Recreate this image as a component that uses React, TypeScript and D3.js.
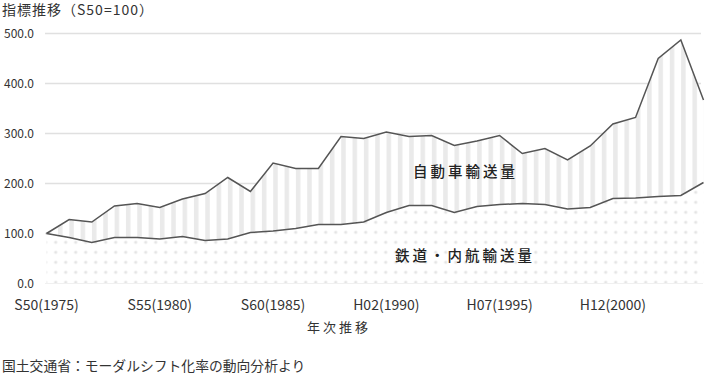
import React from "react";
import * as d3 from "d3";

const years = [1975,1976,1977,1978,1979,1980,1981,1982,1983,1984,1985,1986,1987,1988,1989,1990,1991,1992,1993,1994,1995,1996,1997,1998,1999,2000,2001,2002,2003,2004];
const roadValues = [100,128,123,155,160,152,169,180,212,184,241,230,230,294,290,303,294,296,276,285,296,260,270,247,275,319,332,450,487,367];
const railSeaValues = [100,92,82,92,92,89,94,86,89,102,105,110,118,118,123,142,156,156,142,154,158,160,158,149,152,170,171,174,176,202];
const yTicks = [0,100,200,300,400,500];
const xTickYears = [1975,1980,1985,1990,1995,2000];
const xTickLabels = ["S50(1975)","S55(1980)","S60(1985)","H02(1990)","H07(1995)","H12(2000)"];
const titleText = "指標推移（S50=100）";
const xAxisTitle = "年次推移";
const roadLabel = "自動車輸送量";
const railLabel = "鉄道・内航輸送量";
const sourceText = "国土交通省：モーダルシフト化率の動向分析より";

const FONT = "'Noto Sans CJK JP', 'Noto Sans', sans-serif";

export default function App() {
  const W = 706, H = 375;
  const x = d3.scaleLinear().domain([1975, 2004]).range([46.5, 703.5]);
  const y = d3.scaleLinear().domain([0, 500]).range([283.5, 33.5]);
  const data = years.map((yr, i) => ({ yr, road: roadValues[i], rail: railSeaValues[i] }));

  const upperArea = d3.area<any>().x(d => x(d.yr)).y0(d => y(d.rail)).y1(d => y(d.road))(data) || "";
  const lowerArea = d3.area<any>().x(d => x(d.yr)).y0(y(0)).y1(d => y(d.rail))(data) || "";
  const roadLine = d3.line<any>().x(d => x(d.yr)).y(d => y(d.road))(data) || "";
  const railLine = d3.line<any>().x(d => x(d.yr)).y(d => y(d.rail))(data) || "";

  return (
    <svg width={W} height={H} style={{ position: "absolute", left: 0, top: 0, background: "#fff" }} fontFamily={FONT}>
      <defs>
        <pattern id="stripes" patternUnits="userSpaceOnUse" width={11.33} height={10} x={1.3} y={0}>
          <rect x={0} y={0} width={11.33} height={10} fill="#fff" />
          <rect x={0} y={0} width={4.5} height={10} fill="#eaeaea" />
        </pattern>
        <pattern id="dots" patternUnits="userSpaceOnUse" width={10} height={10} x={0.7} y={2.3}>
          <rect x={0} y={0} width={10} height={10} fill="#fff" />
          <circle cx={5} cy={0} r={1.6} fill="#e4e4e4" />
          <circle cx={5} cy={10} r={1.6} fill="#e4e4e4" />
        </pattern>
      </defs>
      <rect x={0} y={0} width={W} height={H} fill="#fff" />
      <text x={2} y={15} fontSize={14} fill="#333" letterSpacing={1}>{titleText}</text>

      {yTicks.map(t => (
        <g key={t}>
          {t > 0 && <line x1={45} x2={701} y1={y(t)} y2={y(t)} stroke="#e0e0e0" strokeWidth={1.5} />}
          <text x={34} y={y(t)} dy="0.35em" textAnchor="end" fontSize={12} fill="#333">{t.toFixed(1)}</text>
        </g>
      ))}

      <path d={upperArea} fill="url(#stripes)" />
      <path d={lowerArea} fill="url(#dots)" />
      <line x1={45} x2={703} y1={y(0)} y2={y(0)} stroke="#f0f0f0" strokeWidth={1} />
      <path d={roadLine} fill="none" stroke="#555" strokeWidth={1.5} />
      <path d={railLine} fill="none" stroke="#555" strokeWidth={1.5} />

      <text x={413} y={172} dy="0.35em" fontSize={14.5} fontWeight={500} fill="#222" letterSpacing={3}>{roadLabel}</text>
      <text x={395} y={256} dy="0.35em" fontSize={14.5} fontWeight={500} fill="#222" letterSpacing={3}>{railLabel}</text>

      {xTickYears.map((yr, i) => (
        <text key={yr} x={x(yr)} y={305} dy="0.35em" textAnchor="middle" fontSize={14} fill="#333">{xTickLabels[i]}</text>
      ))}
      <text x={339} y={327} dy="0.35em" textAnchor="middle" fontSize={13} fill="#333" letterSpacing={3}>{xAxisTitle}</text>
      <text x={2} y={366} dy="0.35em" fontSize={13.8} fill="#333">{sourceText}</text>
    </svg>
  );
}
